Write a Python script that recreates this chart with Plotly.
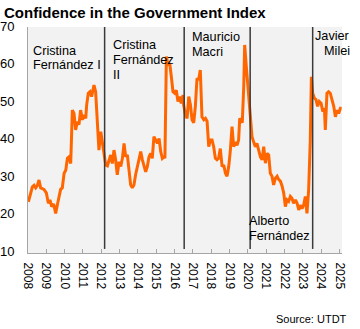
import plotly.graph_objects as go

# ---- data (decimal year, index value) ----
years = [
    2008.02, 2008.15, 2008.24, 2008.33, 2008.42, 2008.51, 2008.60, 2008.69, 2008.87, 2009.00,
    2009.11, 2009.20, 2009.29, 2009.40, 2009.51, 2009.62, 2009.69, 2009.78, 2009.87, 2009.97,
    2010.06, 2010.15, 2010.24, 2010.33, 2010.42, 2010.51, 2010.60, 2010.69, 2010.78, 2010.87,
    2010.97, 2011.06, 2011.15, 2011.20, 2011.29, 2011.38, 2011.47, 2011.60, 2011.69, 2011.78,
    2011.87, 2011.97, 2012.06, 2012.15, 2012.24, 2012.33, 2012.42, 2012.51, 2012.60, 2012.69,
    2012.78, 2012.87, 2012.97, 2013.06, 2013.15, 2013.24, 2013.33, 2013.42, 2013.51, 2013.60,
    2013.69, 2013.78, 2013.87, 2013.97, 2014.06, 2014.15, 2014.24, 2014.33, 2014.42, 2014.51,
    2014.60, 2014.69, 2014.78, 2014.87, 2014.97, 2015.06, 2015.15, 2015.24, 2015.33, 2015.42,
    2015.47, 2015.55, 2015.64, 2015.73, 2015.82, 2015.91, 2016.00, 2016.09, 2016.18, 2016.27,
    2016.36, 2016.46,
    2016.49, 2016.59, 2016.68, 2016.77, 2016.86, 2016.95, 2017.04, 2017.13, 2017.22, 2017.31,
    2017.40, 2017.49, 2017.59, 2017.68, 2017.77, 2017.86, 2017.95, 2018.04, 2018.13, 2018.22,
    2018.31, 2018.40, 2018.49, 2018.59, 2018.68, 2018.77, 2018.86, 2018.95, 2019.04, 2019.13,
    2019.22, 2019.31, 2019.40, 2019.49, 2019.55, 2019.62, 2019.69, 2019.77, 2019.82, 2019.91,
    2019.99, 2020.06, 2020.13, 2020.22, 2020.31, 2020.40, 2020.49, 2020.59, 2020.68, 2020.77,
    2020.86, 2020.95, 2021.04, 2021.13, 2021.22, 2021.31, 2021.40, 2021.49, 2021.59, 2021.68,
    2021.77, 2021.86, 2021.95, 2022.04, 2022.13, 2022.22, 2022.31, 2022.40, 2022.49, 2022.59,
    2022.68, 2022.77, 2022.86, 2022.95, 2023.04, 2023.13, 2023.22, 2023.31, 2023.40, 2023.46,
    2023.53, 2023.62, 2023.71, 2023.80, 2023.89, 2023.99, 2024.08, 2024.17, 2024.22, 2024.31,
    2024.40, 2024.49, 2024.59, 2024.68, 2024.77, 2024.86, 2024.95, 2025.04, 2025.11,
]
index_values = [
    23.7, 26.0, 27.7, 28.1, 27.4, 28.0, 29.5, 27.4, 27.0, 26.1,
    23.3, 24.2, 22.4, 23.1, 20.6, 23.3, 24.6, 27.0, 27.4, 31.3,
    32.1, 35.3, 35.7, 33.9, 48.2, 47.3, 42.9, 45.1, 44.3, 48.2,
    45.6, 46.9, 46.0, 49.6, 52.7, 53.1, 51.8, 54.9, 53.1, 46.4,
    37.5, 42.4, 39.4, 36.2, 33.5, 33.3, 34.9, 36.2, 33.9, 37.5,
    34.9, 30.9, 34.4, 33.1, 35.3, 39.3, 35.7, 36.2, 32.2, 28.2,
    27.4, 28.2, 30.9, 33.1, 35.7, 37.1, 34.9, 33.1, 31.7, 33.1,
    35.7, 36.6, 35.3, 41.1, 40.2, 39.3, 40.6, 37.1, 35.3, 35.7,
    35.3, 62.5, 60.2, 60.7, 57.1, 53.1, 52.7, 53.5, 50.5, 51.8,
    50.0, 52.2,
    49.6, 46.9, 46.0, 51.8, 49.6, 45.6, 44.8, 49.2, 56.7, 56.3,
    58.9, 46.4, 45.6, 46.0, 45.2, 38.4, 40.2, 40.2, 38.4, 35.3,
    34.9, 35.3, 37.9, 33.1, 33.5, 31.3, 30.5, 33.1, 37.5, 43.8,
    38.4, 39.7, 38.8, 40.2, 46.0, 45.2, 44.8, 54.5, 65.6, 59.8,
    55.4, 50.0, 46.4, 41.1, 39.7, 38.4, 39.3, 37.1, 35.7, 34.9,
    38.4, 34.0, 36.6, 36.2, 31.3, 30.5, 28.2, 29.9, 30.5, 29.6,
    29.2, 27.9, 26.0, 22.4, 24.2, 23.8, 25.1, 24.6, 23.3, 24.2,
    23.3, 21.5, 22.8, 21.9, 22.8, 25.1, 20.6, 26.8, 40.2, 57.1,
    52.7, 51.4, 51.0, 49.2, 50.5, 50.0, 47.8, 48.7, 42.9, 52.7,
    53.1, 52.7, 51.0, 49.2, 46.4, 48.2, 47.3, 48.7, 48.7,
]

# presidency change markers (x position) and labels
term_breaks = [2012.18, 2016.52, 2020.12, 2023.53]
term_labels = [
    ["Cristina", "Fernández I"],
    ["Cristina", "Fernández", "II"],
    ["Mauricio", "Macri"],
    ["Alberto", "Fernández"],
    ["Javier", "Milei"],
]
year_ticks = list(range(2008, 2026))
year_labels = [str(y) for y in year_ticks]
y_ticks = [10, 20, 30, 40, 50, 60, 70]

FONT = "Arial, 'Liberation Sans', sans-serif"

# plot area geometry (pixels)
L, R, T, B = 28, 18, 27, 76
W, H = 360, 329
PW, PH = W - L - R, H - T - B

fig = go.Figure()
fig.add_trace(go.Scatter(
    x=years, y=index_values, mode="lines",
    line=dict(color="#ff6600", width=3),
    hoverinfo="skip", showlegend=False,
))

for xb in term_breaks:
    fig.add_shape(type="line", xref="x", yref="paper", x0=xb, x1=xb,
                  y0=0.018, y1=1.0, line=dict(color="#3a3a3a", width=1.5))

# label layout: (pixel x anchor, first-line pixel y centre, line step, anchor)
label_layout = [
    (31.5, 50.7, 14.5, "left"),
    (111.5, 45.5, 14.5, "left"),
    (190.5, 37.0, 14.5, "left"),
    (248.0, 221.0, 14.5, "left"),
    (351.0, 35.5, 15.5, "right"),
]
for lines, (px, py, step, xa) in zip(term_labels, label_layout):
    for i, line in enumerate(lines):
        fig.add_annotation(text=line, xref="paper", yref="paper",
                           x=(px - L) / PW, y=(H - B - (py + i * step)) / PH,
                           xanchor=xa, yanchor="middle", showarrow=False,
                           borderpad=0,
                           font=dict(family=FONT, size=12.7, color="#000"))

fig.add_annotation(text="Source: UTDT", xref="paper", yref="paper",
                   x=(348 - L) / PW, y=(H - B - 319) / PH, xanchor="right",
                   yanchor="middle", showarrow=False, borderpad=0,
                   font=dict(family=FONT, size=11, color="#000"))

fig.update_layout(
    width=W, height=H,
    margin=dict(l=L, r=R, t=T, b=B, autoexpand=False),
    paper_bgcolor="white", plot_bgcolor="#f2f2f2",
    title=dict(text="<b>Confidence in the Government Index</b>",
               xref="container", yref="container", x=4 / W, y=1 - 12.5 / H,
               xanchor="left", yanchor="middle",
               font=dict(family=FONT, size=15, color="#000")),
    font=dict(family=FONT, color="#000"),
)
fig.update_xaxes(
    range=[2008, 2025.13], tickvals=year_ticks, ticktext=year_labels,
    tickangle=90, ticks="inside", ticklen=4, tickcolor="#a6a6a6",
    showline=True, linecolor="#a6a6a6", linewidth=1, showgrid=False,
    zeroline=False, automargin=False, ticklabelstandoff=6,
    tickfont=dict(family=FONT, size=12, color="#000"),
)
fig.update_yaxes(
    range=[10, 70.4], tickvals=y_ticks, ticks="", showgrid=False,
    showline=True, linecolor="#a6a6a6", linewidth=1, zeroline=False,
    automargin=False,
    tickfont=dict(family=FONT, size=13, color="#000"),
    ticklabelstandoff=10, ticklabelshift=-2,
)

fig.write_html("out.html")
